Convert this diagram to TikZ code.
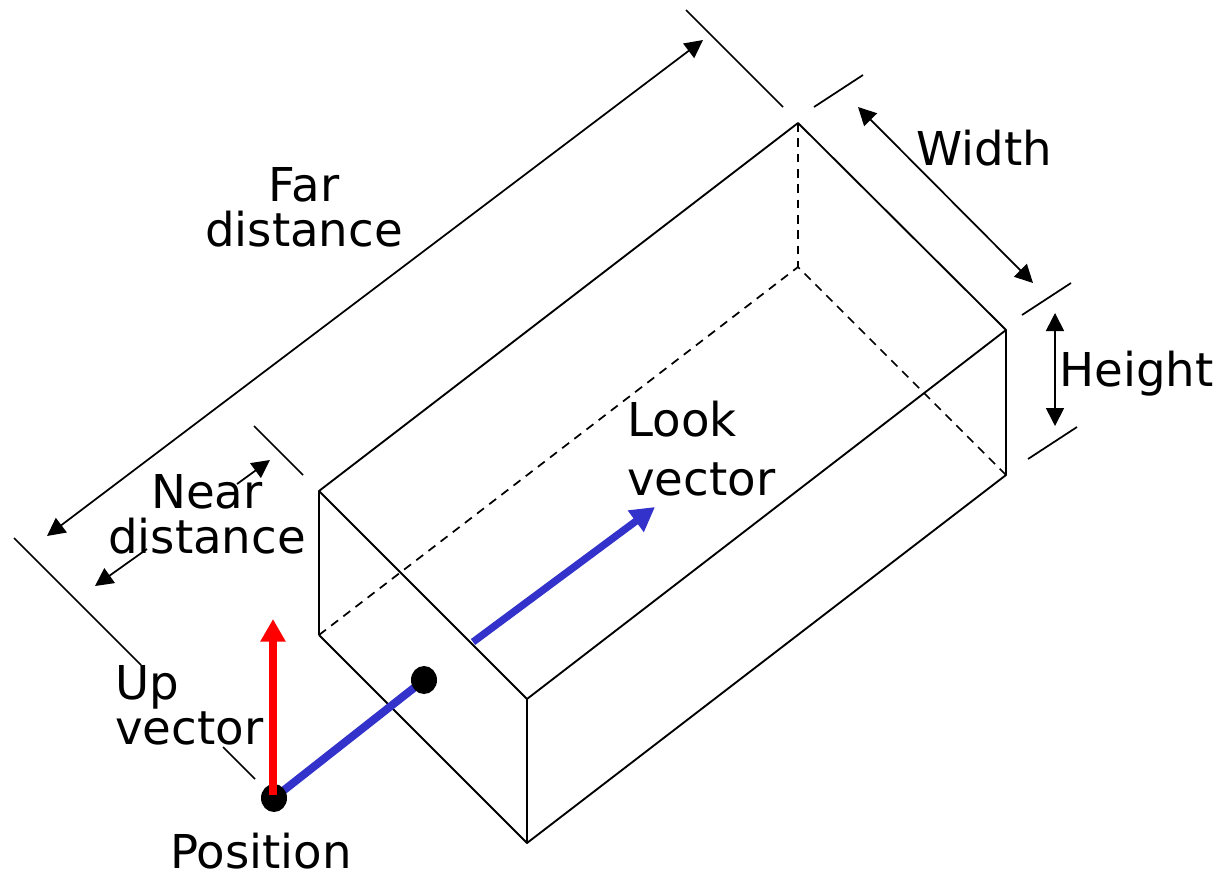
\documentclass[tikz,border=0pt]{standalone}
\usepackage{fontspec}
\setmainfont{DejaVu Sans}
\usetikzlibrary{arrows.meta,shapes.geometric}
\definecolor{vecblue}{RGB}{51,51,204}
\tikzset{
  x=0.75pt,y=-0.75pt,
  edge/.style={line width=1.4pt,black},
  hidden/.style={line width=1.3pt,black,dash pattern=on 6.5pt off 5pt},
  tick/.style={line width=1.3pt,black},
  dim/.style={line width=1.3pt,black,{Triangle[length=13.5pt,width=13.5pt]}-{Triangle[length=13.5pt,width=13.5pt]}},
  dimone/.style={line width=1.3pt,black,-{Triangle[length=13.5pt,width=13.5pt]}},
  upvec/.style={line width=6pt,red,-{Triangle[length=17pt,width=18pt]}},
  lookvec/.style={line width=5.5pt,vecblue,-{Triangle[length=18pt,width=19pt]}},
  stem/.style={line width=6pt,vecblue},
  dot/.style={ellipse,fill=black,inner sep=0pt,minimum width=19.5pt,minimum height=21pt},
  lab/.style={font=\fontsize{35}{33.75}\selectfont,inner sep=0pt,align=center,text=black},
  labl/.style={lab,align=left},
  single/.style={font=\fontsize{35}{33.75}\selectfont,inner sep=0pt,text=black},
}
\begin{document}
\begin{tikzpicture}
\useasboundingbox (0,0) rectangle (1223,874);
% box corners
\coordinate (A) at (319,491);
\coordinate (B) at (798,123);
\coordinate (C) at (1006,330);
\coordinate (D) at (527,699);
\coordinate (Ab) at (319,635);
\coordinate (Bb) at (798,267);
\coordinate (Cb) at (1006,475);
\coordinate (Db) at (527,843);
\draw[hidden] (Ab) -- (Bb) -- (Cb);
\draw[hidden] (B) -- (Bb);
\draw[edge,line join=round] (Ab) -- (A) -- (B) -- (C) -- (D) -- (A);
\draw[edge,line join=round] (D) -- (Db) -- (Cb) -- (C);
\draw[edge,line join=round] (Ab) -- (Db);
% extension ticks
\coordinate (t1a) at (14,538);   \coordinate (t1b) at (141,665);
\coordinate (t2a) at (254,426);  \coordinate (t2b) at (303,475);
\coordinate (t3a) at (223,747);  \coordinate (t3b) at (255,779);
\coordinate (t4a) at (686,10);   \coordinate (t4b) at (783,107);
\coordinate (t5a) at (814,107);  \coordinate (t5b) at (863,75);
\coordinate (t6a) at (1022,315); \coordinate (t6b) at (1071,283);
\coordinate (t7a) at (1028,459); \coordinate (t7b) at (1077,427);
\foreach \n in {1,...,7} \draw[tick] (t\n a) -- (t\n b);
% dimension arrows
\coordinate (farA) at (47,536);   \coordinate (farB) at (703,40);
\coordinate (wA) at (858,107);    \coordinate (wB) at (1033,283);
\coordinate (hA) at (1055,313);   \coordinate (hB) at (1055,426);
\coordinate (nearA) at (237,484); \coordinate (nearB) at (270,460);
\coordinate (nearC) at (147,549); \coordinate (nearD) at (95,586);
\draw[dim] (farA) -- (farB);
\draw[dim] (wA) -- (wB);
\draw[dim] (hA) -- (hB);
\draw[dimone] (nearA) -- (nearB);
\draw[dimone] (nearC) -- (nearD);
% look vector
\coordinate (lookA) at (473,642);
\coordinate (lookB) at (655,507);
\draw[lookvec] (lookA) -- (lookB);
% camera: stem first, the dots over it, the up vector over the dot
\path (274,798) coordinate (posC) (424,680) coordinate (nearC2);
\draw[stem] (posC) -- (nearC2);
\node[dot] (pos) at (posC) {};
\node[dot] (near) at (nearC2) {};
\coordinate (upA) at (273,795);
\coordinate (upB) at (273,619);
\draw[upvec] (upA) -- (upB);
% labels
\node[lab] (far) at (304,207) {Far\\distance};
\node[lab] (neardist) at (207,514) {Near\\distance};
\node[labl,anchor=west] (look) at (627,449) {Look\\[10.5pt]vector};
\node[labl,anchor=west] (up) at (115,705) {Up\\vector};
\node[single] (width) at (984,148) {Width};
\node[single,anchor=west] (height) at (1059,374) {Height};
\node[single] (position) at (261,851) {Position};
\end{tikzpicture}
\end{document}
